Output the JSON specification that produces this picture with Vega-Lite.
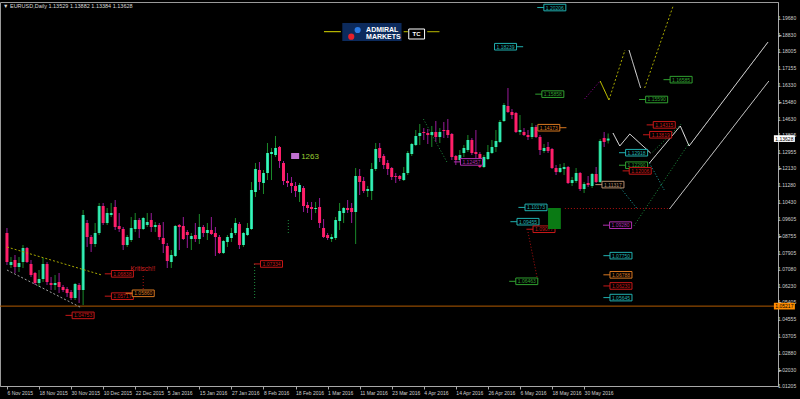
{
"$schema":"https://vega.github.io/schema/vega-lite/v6.json",
"width":778,"height":384,
"autosize":"none",
"padding":{"left":0,"top":2,"right":22,"bottom":13},
"background":"#000000",
"config":{"view":{"stroke":"#9a9a9a","strokeWidth":1},"font":"Liberation Sans","axis":{"labelOverlap":false,"labelBound":false,"labelFlush":false,"grid":false,"labelFontSize":5,"labelColor":"#d0d0d0","labelFont":"Liberation Sans","domainColor":"#a8a8a8","tickColor":"#a8a8a8","tickSize":3,"labelPadding":1}},
"title":{"text":"▼ EURUSD,Daily  1.13529 1.13882 1.13384 1.13628","anchor":"start","frame":"group","orient":"top","offset":-7,"dx":3,"fontSize":5.5,"fontWeight":"normal","color":"#d8d8d8","font":"Liberation Sans"},
"datasets":{
"k":[
{"i":0,"o":1.08887,"h":1.09138,"l":1.07281,"c":1.07432},
{"i":1,"o":1.07281,"h":1.07683,"l":1.0713,"c":1.07432},
{"i":2,"o":1.07532,"h":1.07783,"l":1.06879,"c":1.07181},
{"i":3,"o":1.07181,"h":1.07683,"l":1.0693,"c":1.07381},
{"i":4,"o":1.07432,"h":1.08285,"l":1.0713,"c":1.08134},
{"i":5,"o":1.08134,"h":1.08185,"l":1.07381,"c":1.07432},
{"i":6,"o":1.07331,"h":1.07532,"l":1.06679,"c":1.06779},
{"i":7,"o":1.06879,"h":1.0693,"l":1.06277,"c":1.06377},
{"i":8,"o":1.06377,"h":1.0703,"l":1.06177,"c":1.06578},
{"i":9,"o":1.06578,"h":1.07632,"l":1.06428,"c":1.07331},
{"i":10,"o":1.07331,"h":1.07432,"l":1.06277,"c":1.06428},
{"i":11,"o":1.06377,"h":1.06679,"l":1.06026,"c":1.06277},
{"i":12,"o":1.06277,"h":1.06779,"l":1.06026,"c":1.06377},
{"i":13,"o":1.06428,"h":1.06879,"l":1.05875,"c":1.06177},
{"i":14,"o":1.06177,"h":1.06277,"l":1.05926,"c":1.06026},
{"i":15,"o":1.06076,"h":1.06177,"l":1.05675,"c":1.05875},
{"i":16,"o":1.05926,"h":1.06026,"l":1.05524,"c":1.05624},
{"i":17,"o":1.05624,"h":1.06377,"l":1.05524,"c":1.06327},
{"i":18,"o":1.06277,"h":1.06377,"l":1.05373,"c":1.06026},
{"i":19,"o":1.06026,"h":1.10042,"l":1.05273,"c":1.09791},
{"i":20,"o":1.09389,"h":1.0954,"l":1.08185,"c":1.08687},
{"i":21,"o":1.08687,"h":1.08787,"l":1.07934,"c":1.08335},
{"i":22,"o":1.08335,"h":1.09389,"l":1.08185,"c":1.08887},
{"i":23,"o":1.08887,"h":1.10393,"l":1.08787,"c":1.10243},
{"i":24,"o":1.10243,"h":1.10393,"l":1.09289,"c":1.09389},
{"i":25,"o":1.09389,"h":1.10142,"l":1.09289,"c":1.09891},
{"i":26,"o":1.09791,"h":1.10393,"l":1.09691,"c":1.09891},
{"i":27,"o":1.10193,"h":1.10544,"l":1.09038,"c":1.09189},
{"i":28,"o":1.09239,"h":1.09891,"l":1.08938,"c":1.09088},
{"i":29,"o":1.09088,"h":1.09189,"l":1.08034,"c":1.08285},
{"i":30,"o":1.08285,"h":1.08787,"l":1.08185,"c":1.08687},
{"i":31,"o":1.08536,"h":1.09691,"l":1.08436,"c":1.09138},
{"i":32,"o":1.09088,"h":1.09891,"l":1.08938,"c":1.0954},
{"i":33,"o":1.0954,"h":1.0964,"l":1.08636,"c":1.09088},
{"i":34,"o":1.09088,"h":1.09691,"l":1.09038,"c":1.0964},
{"i":35,"o":1.09289,"h":1.09891,"l":1.09189,"c":1.0944},
{"i":36,"o":1.0954,"h":1.09891,"l":1.08938,"c":1.09189},
{"i":37,"o":1.09189,"h":1.0944,"l":1.08938,"c":1.09289},
{"i":38,"o":1.09289,"h":1.09389,"l":1.08536,"c":1.08687},
{"i":39,"o":1.08636,"h":1.0944,"l":1.07883,"c":1.08335},
{"i":40,"o":1.08235,"h":1.08385,"l":1.0713,"c":1.07482},
{"i":41,"o":1.07432,"h":1.08034,"l":1.0713,"c":1.07783},
{"i":42,"o":1.07733,"h":1.09289,"l":1.07683,"c":1.09239},
{"i":43,"o":1.09289,"h":1.09339,"l":1.08034,"c":1.09189},
{"i":44,"o":1.09239,"h":1.09691,"l":1.08536,"c":1.08586},
{"i":45,"o":1.08938,"h":1.09038,"l":1.08134,"c":1.08787},
{"i":46,"o":1.08586,"h":1.08887,"l":1.08034,"c":1.08737},
{"i":47,"o":1.08787,"h":1.09389,"l":1.08436,"c":1.08586},
{"i":48,"o":1.08586,"h":1.09841,"l":1.08335,"c":1.09189},
{"i":49,"o":1.09189,"h":1.09289,"l":1.08687,"c":1.08887},
{"i":50,"o":1.08887,"h":1.09389,"l":1.08536,"c":1.09038},
{"i":51,"o":1.09038,"h":1.09691,"l":1.08787,"c":1.08837},
{"i":52,"o":1.08887,"h":1.09189,"l":1.07733,"c":1.08687},
{"i":53,"o":1.08687,"h":1.08787,"l":1.07833,"c":1.07883},
{"i":54,"o":1.07883,"h":1.08536,"l":1.07833,"c":1.08486},
{"i":55,"o":1.08436,"h":1.08787,"l":1.08185,"c":1.08687},
{"i":56,"o":1.08636,"h":1.09138,"l":1.08436,"c":1.08887},
{"i":57,"o":1.08887,"h":1.0964,"l":1.08787,"c":1.09389},
{"i":58,"o":1.09339,"h":1.0944,"l":1.08084,"c":1.08285},
{"i":59,"o":1.08285,"h":1.08938,"l":1.08185,"c":1.08887},
{"i":60,"o":1.08787,"h":1.09389,"l":1.08737,"c":1.09138},
{"i":61,"o":1.09088,"h":1.11448,"l":1.09038,"c":1.11046},
{"i":62,"o":1.10946,"h":1.12401,"l":1.10695,"c":1.121},
{"i":63,"o":1.1205,"h":1.12452,"l":1.11046,"c":1.11448},
{"i":64,"o":1.11397,"h":1.1205,"l":1.10845,"c":1.11899},
{"i":65,"o":1.11899,"h":1.13405,"l":1.11548,"c":1.12903},
{"i":66,"o":1.12853,"h":1.13154,"l":1.11548,"c":1.12954},
{"i":67,"o":1.12803,"h":1.13757,"l":1.12703,"c":1.13154},
{"i":68,"o":1.13205,"h":1.13255,"l":1.1215,"c":1.12502},
{"i":69,"o":1.12401,"h":1.12502,"l":1.11297,"c":1.11498},
{"i":70,"o":1.11498,"h":1.11899,"l":1.11197,"c":1.11397},
{"i":71,"o":1.11397,"h":1.11699,"l":1.10895,"c":1.11247},
{"i":72,"o":1.11247,"h":1.11448,"l":1.10695,"c":1.10996},
{"i":73,"o":1.10946,"h":1.11397,"l":1.10444,"c":1.11297},
{"i":74,"o":1.11146,"h":1.11247,"l":1.09942,"c":1.10243},
{"i":75,"o":1.10293,"h":1.10444,"l":1.09891,"c":1.10142},
{"i":76,"o":1.10193,"h":1.10444,"l":1.0954,"c":1.10092},
{"i":77,"o":1.10092,"h":1.10444,"l":1.09891,"c":1.10142},
{"i":78,"o":1.10193,"h":1.10644,"l":1.09138,"c":1.09389},
{"i":79,"o":1.09138,"h":1.0959,"l":1.08636,"c":1.08687},
{"i":80,"o":1.08787,"h":1.08887,"l":1.08536,"c":1.08636},
{"i":81,"o":1.08586,"h":1.08837,"l":1.08436,"c":1.08687},
{"i":82,"o":1.08636,"h":1.09691,"l":1.08536,"c":1.0954},
{"i":83,"o":1.0949,"h":1.10393,"l":1.09038,"c":1.09992},
{"i":84,"o":1.09891,"h":1.10193,"l":1.09389,"c":1.10142},
{"i":85,"o":1.10142,"h":1.10544,"l":1.09891,"c":1.10042},
{"i":86,"o":1.10142,"h":1.10393,"l":1.09389,"c":1.09942},
{"i":87,"o":1.09942,"h":1.1215,"l":1.08335,"c":1.11749},
{"i":88,"o":1.11749,"h":1.121,"l":1.10795,"c":1.11448},
{"i":89,"o":1.11498,"h":1.11699,"l":1.10895,"c":1.10996},
{"i":90,"o":1.10996,"h":1.11247,"l":1.10695,"c":1.11096},
{"i":91,"o":1.10996,"h":1.12401,"l":1.10544,"c":1.121},
{"i":92,"o":1.121,"h":1.13405,"l":1.12,"c":1.13104},
{"i":93,"o":1.13154,"h":1.13405,"l":1.12452,"c":1.12652},
{"i":94,"o":1.12753,"h":1.12853,"l":1.121,"c":1.12301},
{"i":95,"o":1.12401,"h":1.12552,"l":1.11799,"c":1.121},
{"i":96,"o":1.1215,"h":1.12201,"l":1.11548,"c":1.11699},
{"i":97,"o":1.11749,"h":1.11899,"l":1.11397,"c":1.11699},
{"i":98,"o":1.11749,"h":1.11799,"l":1.11498,"c":1.11598},
{"i":99,"o":1.11548,"h":1.12201,"l":1.11498,"c":1.11899},
{"i":100,"o":1.11899,"h":1.13004,"l":1.11799,"c":1.12903},
{"i":101,"o":1.12853,"h":1.13405,"l":1.12753,"c":1.13355},
{"i":102,"o":1.13305,"h":1.14058,"l":1.13255,"c":1.13757},
{"i":103,"o":1.13757,"h":1.14359,"l":1.13305,"c":1.13907},
{"i":104,"o":1.13958,"h":1.14158,"l":1.13556,"c":1.13907},
{"i":105,"o":1.13907,"h":1.14108,"l":1.13355,"c":1.13807},
{"i":106,"o":1.13807,"h":1.14259,"l":1.13205,"c":1.13958},
{"i":107,"o":1.13958,"h":1.1451,"l":1.13456,"c":1.13707},
{"i":108,"o":1.13707,"h":1.14158,"l":1.13405,"c":1.13958},
{"i":109,"o":1.14058,"h":1.1446,"l":1.13656,"c":1.14008},
{"i":110,"o":1.14058,"h":1.1461,"l":1.13656,"c":1.13807},
{"i":111,"o":1.13857,"h":1.13907,"l":1.12552,"c":1.12703},
{"i":112,"o":1.12753,"h":1.12803,"l":1.12301,"c":1.12552},
{"i":113,"o":1.12552,"h":1.13054,"l":1.12452,"c":1.12803},
{"i":114,"o":1.12903,"h":1.13305,"l":1.12703,"c":1.13154},
{"i":115,"o":1.13054,"h":1.13807,"l":1.12954,"c":1.13556},
{"i":116,"o":1.13556,"h":1.13656,"l":1.12803,"c":1.12903},
{"i":117,"o":1.12954,"h":1.14058,"l":1.12652,"c":1.12853},
{"i":118,"o":1.12853,"h":1.12954,"l":1.1215,"c":1.12201},
{"i":119,"o":1.12201,"h":1.12803,"l":1.1215,"c":1.12703},
{"i":120,"o":1.12602,"h":1.13305,"l":1.12552,"c":1.12954},
{"i":121,"o":1.12903,"h":1.13556,"l":1.12853,"c":1.13205},
{"i":122,"o":1.13205,"h":1.14058,"l":1.12954,"c":1.13506},
{"i":123,"o":1.13456,"h":1.1456,"l":1.13405,"c":1.1446},
{"i":124,"o":1.1451,"h":1.15413,"l":1.1446,"c":1.15313},
{"i":125,"o":1.15263,"h":1.16166,"l":1.14911,"c":1.14962},
{"i":126,"o":1.14962,"h":1.15112,"l":1.1461,"c":1.14811},
{"i":127,"o":1.14911,"h":1.14962,"l":1.13907,"c":1.13958},
{"i":128,"o":1.13958,"h":1.14811,"l":1.13807,"c":1.14058},
{"i":129,"o":1.13958,"h":1.14158,"l":1.13757,"c":1.13807},
{"i":130,"o":1.13807,"h":1.14058,"l":1.13556,"c":1.13707},
{"i":131,"o":1.13707,"h":1.14409,"l":1.13606,"c":1.14209},
{"i":132,"o":1.14209,"h":1.14309,"l":1.13656,"c":1.13707},
{"i":133,"o":1.13707,"h":1.13807,"l":1.12803,"c":1.13054},
{"i":134,"o":1.13004,"h":1.13355,"l":1.12903,"c":1.13154},
{"i":135,"o":1.13205,"h":1.13456,"l":1.12903,"c":1.13004},
{"i":136,"o":1.13104,"h":1.13154,"l":1.121,"c":1.1215},
{"i":137,"o":1.1215,"h":1.12301,"l":1.11799,"c":1.1195},
{"i":138,"o":1.1195,"h":1.12351,"l":1.11899,"c":1.1215},
{"i":139,"o":1.121,"h":1.12401,"l":1.11799,"c":1.12201},
{"i":140,"o":1.12201,"h":1.12251,"l":1.11347,"c":1.11397},
{"i":141,"o":1.11397,"h":1.11699,"l":1.11247,"c":1.11548},
{"i":142,"o":1.11498,"h":1.1215,"l":1.11397,"c":1.11899},
{"i":143,"o":1.11899,"h":1.1195,"l":1.10996,"c":1.11096},
{"i":144,"o":1.11096,"h":1.11448,"l":1.10895,"c":1.11347},
{"i":145,"o":1.11397,"h":1.11749,"l":1.11197,"c":1.11297},
{"i":146,"o":1.11247,"h":1.11899,"l":1.11146,"c":1.11849},
{"i":147,"o":1.11849,"h":1.12201,"l":1.11397,"c":1.11448},
{"i":148,"o":1.11448,"h":1.13606,"l":1.11397,"c":1.13506},
{"i":149,"o":1.13656,"h":1.13958,"l":1.13205,"c":1.13456},
{"i":150,"o":1.13529,"h":1.13882,"l":1.13384,"c":1.13628}
],
"ln":[
{"id":1,"n":0,"i":0,"p":1.08185,"g":"ol"},{"id":1,"n":1,"i":23.65,"p":1.06779,"g":"ol"},
{"id":2,"n":0,"i":0,"p":1.0703,"g":"gy"},{"id":2,"n":1,"i":18.7,"p":1.05122,"g":"gy"},
{"id":3,"n":0,"i":34.0,"p":1.06729,"g":"rd"},{"id":3,"n":1,"i":34.0,"p":1.06026,"g":"rd"},
{"id":4,"n":0,"i":61.8,"p":1.07331,"g":"gr"},{"id":4,"n":1,"i":61.8,"p":1.05524,"g":"gr"},
{"id":5,"n":0,"i":70.2,"p":1.0954,"g":"gr"},{"id":5,"n":1,"i":70.2,"p":1.08887,"g":"gr"},
{"id":6,"n":0,"i":130.0,"p":1.08938,"g":"rd"},{"id":6,"n":1,"i":132.5,"p":1.06428,"g":"rd"},
{"id":7,"n":0,"i":103.9,"p":1.1461,"g":"gr"},{"id":7,"n":1,"i":109.9,"p":1.12401,"g":"gr"},
{"id":8,"n":0,"i":144.1,"p":1.15614,"g":"pu"},{"id":8,"n":1,"i":148.0,"p":1.16518,"g":"pu"},
{"id":9,"n":0,"i":148.0,"p":1.16518,"g":"ye"},{"id":9,"n":1,"i":150.2,"p":1.15564,"g":"ye"},
{"id":10,"n":0,"i":150.2,"p":1.15564,"g":"ol"},{"id":10,"n":1,"i":154.2,"p":1.18074,"g":"ol"},
{"id":11,"n":0,"i":155.2,"p":1.18074,"g":"wh"},{"id":11,"n":1,"i":158.1,"p":1.16166,"g":"wh"},
{"id":12,"n":0,"i":159.1,"p":1.16166,"g":"ol"},{"id":12,"n":1,"i":166.3,"p":1.20333,"g":"ol"},
{"id":13,"n":0,"i":151.2,"p":1.13907,"g":"wt"},{"id":13,"n":1,"i":152.9,"p":1.13255,"g":"wt"},{"id":13,"n":2,"i":155.4,"p":1.13857,"g":"wt"},{"id":13,"n":3,"i":160.6,"p":1.12903,"g":"wt"},
{"id":14,"n":0,"i":160.3,"p":1.12401,"g":"wt"},{"id":14,"n":1,"i":168.0,"p":1.14259,"g":"wt"},{"id":14,"n":2,"i":170.2,"p":1.13255,"g":"wt"},{"id":14,"n":3,"i":189.9,"p":1.18476,"g":"wt"},
{"id":15,"n":0,"i":165.3,"p":1.10092,"g":"wh"},{"id":15,"n":1,"i":190.1,"p":1.16518,"g":"wh"},
{"id":16,"n":0,"i":139.2,"p":1.10117,"g":"rd"},{"id":16,"n":1,"i":165.3,"p":1.10117,"g":"rd"},
{"id":17,"n":0,"i":152.7,"p":1.11247,"g":"cy"},{"id":17,"n":1,"i":157.1,"p":1.10142,"g":"cy"},
{"id":18,"n":0,"i":160.3,"p":1.12401,"g":"cy"},{"id":18,"n":1,"i":164.0,"p":1.11046,"g":"cy"},
{"id":19,"n":0,"i":156.4,"p":1.09239,"g":"gr"},{"id":19,"n":1,"i":170.2,"p":1.13405,"g":"gr"},
{"id":20,"n":0,"i":161.1,"p":1.12954,"g":"gr"},{"id":20,"n":1,"i":168.5,"p":1.14409,"g":"gr"},
{"id":21,"n":0,"i":79.1,"p":1.18993,"g":"ye"},{"id":21,"n":1,"i":83.3,"p":1.18993,"g":"ye"},
{"id":22,"n":0,"i":99.0,"p":1.18993,"g":"ye"},{"id":22,"n":1,"i":100.0,"p":1.18993,"g":"ye"},
{"id":23,"n":0,"i":104.9,"p":1.18993,"g":"ye"},{"id":23,"n":1,"i":107.9,"p":1.18993,"g":"ye"}
],
"lb":[
{"i":136.7,"p":1.20206,"t":"1.20206","g":"cy","s":"L"},
{"i":124.4,"p":1.18239,"t":"1.18239","g":"cy","s":"R"},
{"i":136.2,"p":1.15858,"t":"1.15858","g":"gr","s":"L"},
{"i":168.2,"p":1.16585,"t":"1.16585","g":"gr","s":"L"},
{"i":162.1,"p":1.1559,"t":"1.15590","g":"gr","s":"L"},
{"i":135.2,"p":1.14173,"t":"1.14173","g":"or","s":"R"},
{"i":164.0,"p":1.14315,"t":"1.14315","g":"rd","s":"L"},
{"i":163.1,"p":1.13819,"t":"1.13819","g":"rd","s":"L"},
{"i":157.1,"p":1.12918,"t":"1.12918","g":"cy","s":"L"},
{"i":157.1,"p":1.1229,"t":"1.12290","g":"gr","s":"L"},
{"i":158.0,"p":1.12006,"t":"1.12006","g":"rd","s":"L"},
{"i":151.2,"p":1.11317,"t":"1.11317","g":"tn","s":"L"},
{"i":132.0,"p":1.10173,"t":"1.10173","g":"cy","s":"L"},
{"i":130.0,"p":1.09455,"t":"1.09455","g":"cy","s":"L"},
{"i":134.0,"p":1.09077,"t":"1.09077","g":"rd","s":"L"},
{"i":153.1,"p":1.0928,"t":"1.09280","g":"pu","s":"L"},
{"i":115.9,"p":1.12457,"t":"1.12457","g":"pu","s":"L"},
{"i":153.2,"p":1.0775,"t":"1.07750","g":"cy","s":"L"},
{"i":153.2,"p":1.06788,"t":"1.06788","g":"or","s":"L"},
{"i":153.2,"p":1.0623,"t":"1.06230","g":"rd","s":"L"},
{"i":153.2,"p":1.05645,"t":"1.05645","g":"cy","s":"L"},
{"i":129.7,"p":1.06463,"t":"1.06463","g":"gr","s":"L"},
{"i":28.8,"p":1.06838,"t":"1.06838","g":"rd","s":"L"},
{"i":28.8,"p":1.05717,"t":"1.05717","g":"rd","s":"L"},
{"i":34.0,"p":1.0586,"t":"1.05860","g":"or","s":"L"},
{"i":19.0,"p":1.04753,"t":"1.04753","g":"rd","s":"L"},
{"i":66.0,"p":1.07334,"t":"1.07334","g":"rd","s":"L"}
],
"yl":[
{"i":192.4,"p":1.1968,"t":"1.19680"},{"i":192.4,"p":1.1883,"t":"1.18830"},{"i":192.4,"p":1.18005,"t":"1.18005"},{"i":192.4,"p":1.17155,"t":"1.17155"},
{"i":192.4,"p":1.1633,"t":"1.16330"},{"i":192.4,"p":1.1548,"t":"1.15480"},{"i":192.4,"p":1.1463,"t":"1.14630"},{"i":192.4,"p":1.13805,"t":"1.13805"},
{"i":192.4,"p":1.12955,"t":"1.12955"},{"i":192.4,"p":1.1213,"t":"1.12130"},{"i":192.4,"p":1.1128,"t":"1.11280"},{"i":192.4,"p":1.1043,"t":"1.10430"},
{"i":192.4,"p":1.09605,"t":"1.09605"},{"i":192.4,"p":1.08755,"t":"1.08755"},{"i":192.4,"p":1.07905,"t":"1.07905"},{"i":192.4,"p":1.0708,"t":"1.07080"},
{"i":192.4,"p":1.0623,"t":"1.06230"},{"i":192.4,"p":1.05405,"t":"1.05405"},{"i":192.4,"p":1.04555,"t":"1.04555"},{"i":192.4,"p":1.03705,"t":"1.03705"},
{"i":192.4,"p":1.0288,"t":"1.02880"},{"i":192.4,"p":1.0203,"t":"1.02030"},{"i":192.4,"p":1.01205,"t":"1.01205"}
],
"ax":[
{"i":193.97,"p":1.13628,"t":"1.13628","g":"cur"},
{"i":193.97,"p":1.05217,"t":"1.05217","g":"ord"}
]
},
"layer":[
{"data":{"name":"k"},
 "mark":{"type":"rule","strokeWidth":1},
 "encoding":{
  "x":{"field":"i","type":"quantitative","scale":{"domain":[-0.49,191.13],"nice":false,"zero":false},"title":null,
   "axis":{"orient":"bottom","values":[0,8,16,24,32,40,48,56,64,72,80,88,96,104,112,120,128,136,144],
   "labelExpr":"['6 Nov 2015','18 Nov 2015','30 Nov 2015','10 Dec 2015','22 Dec 2015','5 Jan 2016','15 Jan 2016','27 Jan 2016','8 Feb 2016','18 Feb 2016','1 Mar 2016','11 Mar 2016','23 Mar 2016','4 Apr 2016','14 Apr 2016','26 Apr 2016','6 May 2016','18 May 2016','30 May 2016'][round(datum.value/8)]",
   "labelAlign":"left","labelOverlap":false}},
  "y":{"field":"l","type":"quantitative","scale":{"domain":[1.01207,1.20484],"nice":false,"zero":false},"title":null,
   "axis":{"orient":"right","values":[1.1968,1.1883,1.18005,1.17155,1.1633,1.1548,1.1463,1.13805,1.12955,1.1213,1.1128,1.1043,1.09605,1.08755,1.07905,1.0708,1.0623,1.05405,1.04555,1.03705,1.0288,1.0203,1.01205],"labels":false}},
  "y2":{"field":"h"},
  "color":{"condition":{"test":"datum.c >= datum.o","value":"#1a8a2a"},"value":"#9a1a9a"}}},
{"data":{"name":"yl"},
 "mark":{"type":"text","fontSize":5,"font":"Liberation Sans","align":"left","baseline":"middle","color":"#d0d0d0"},
 "encoding":{
  "x":{"field":"i","type":"quantitative","scale":{"domain":[-0.49,191.13],"nice":false,"zero":false},"title":null},
  "y":{"field":"p","type":"quantitative","scale":{"domain":[1.01207,1.20484],"nice":false,"zero":false},"title":null},
  "text":{"field":"t"}}},
{"data":{"values":[{"p":1.05217}]},
 "mark":{"type":"rule","color":"#b35a00","strokeWidth":1},
 "encoding":{"y":{"field":"p","type":"quantitative","scale":{"domain":[1.01207,1.20484],"nice":false,"zero":false},"title":null}}},
{"data":{"name":"k"},
 "transform":[{"filter":"datum.c >= datum.o"}],
 "mark":{"type":"bar","size":3,"color":{"gradient":"linear","x1":0,"x2":1,"y1":0,"y2":0,"stops":[{"offset":0,"color":"#18c870"},{"offset":0.5,"color":"#3cf0c8"},{"offset":1,"color":"#20d890"}]}},
 "encoding":{
  "x":{"field":"i","type":"quantitative","scale":{"domain":[-0.49,191.13],"nice":false,"zero":false},"title":null},
  "y":{"field":"o","type":"quantitative","scale":{"domain":[1.01207,1.20484],"nice":false,"zero":false},"title":null},
  "y2":{"field":"c"}}},
{"data":{"name":"k"},
 "transform":[{"filter":"datum.c < datum.o"}],
 "mark":{"type":"bar","size":3,"color":"#ff1f6a"},
 "encoding":{
  "x":{"field":"i","type":"quantitative","scale":{"domain":[-0.49,191.13],"nice":false,"zero":false},"title":null},
  "y":{"field":"o","type":"quantitative","scale":{"domain":[1.01207,1.20484],"nice":false,"zero":false},"title":null},
  "y2":{"field":"c"}}},
{"data":{"name":"ln"},
 "mark":{"type":"line"},
 "encoding":{
  "x":{"field":"i","type":"quantitative","scale":{"domain":[-0.49,191.13],"nice":false,"zero":false},"title":null},
  "y":{"field":"p","type":"quantitative","scale":{"domain":[1.01207,1.20484],"nice":false,"zero":false},"title":null},
  "detail":{"field":"id","type":"nominal"},
  "order":{"field":"n","type":"quantitative"},
  "color":{"field":"g","type":"nominal","legend":null,"scale":{"domain":["ol","gy","rd","gr","pu","ye","wh","wt","cy"],"range":["#a8a800","#a0a0a0","#b01010","#1f8f3f","#a000a0","#e0e000","#e8e8e8","#ffffff","#20a8a8"]}},
  "strokeDash":{"field":"g","type":"nominal","legend":null,"scale":{"domain":["ol","gy","rd","gr","pu","ye","wh","wt","cy"],"range":[[2,2],[2,2],[1,2],[1,2],[1,2],[1,0],[1,0],[1,0],[1,2]]}},
  "strokeWidth":{"field":"g","type":"ordinal","legend":null,"scale":{"domain":["ol","gy","rd","gr","pu","ye","wh","wt","cy"],"range":[1,1,1,1,1,1.5,1.5,2.5,1]}}}},
{"data":{"name":"lb"},
 "mark":{"type":"point","fill":"#000000","fillOpacity":1,"strokeWidth":1,"size":484,"opacity":1},
 "encoding":{
  "x":{"field":"i","type":"quantitative","scale":{"domain":[-0.49,191.13],"nice":false,"zero":false},"title":null},
  "y":{"field":"p","type":"quantitative","scale":{"domain":[1.01207,1.20484],"nice":false,"zero":false},"title":null},
  "shape":{"field":"s","type":"nominal","legend":null,"scale":{"domain":["L","R"],"range":["M-1,-0.3H1V0.3H-1Z M-1,0H-1.6","M-1,-0.3H1V0.3H-1Z M1,0H1.6"]}},
  "stroke":{"field":"g","type":"nominal","legend":null,"scale":{"domain":["cy","gr","or","rd","tn","pu"],"range":["#20b0b0","#30a030","#d87820","#c81818","#b89070","#b030b0"]}}}},
{"data":{"name":"lb"},
 "mark":{"type":"text","fontSize":5,"font":"Liberation Sans","align":"center","baseline":"middle"},
 "encoding":{
  "x":{"field":"i","type":"quantitative","scale":{"domain":[-0.49,191.13],"nice":false,"zero":false},"title":null},
  "y":{"field":"p","type":"quantitative","scale":{"domain":[1.01207,1.20484],"nice":false,"zero":false},"title":null},
  "text":{"field":"t"},
  "color":{"field":"g","type":"nominal","legend":null,"scale":{"domain":["cy","gr","or","rd","tn","pu"],"range":["#20b0b0","#30a030","#d87820","#c81818","#b89070","#b030b0"]}}}},
{"data":{"values":[{"i1":135.0,"i2":138.2,"p1":1.10142,"p2":1.09088}]},
 "mark":{"type":"rect","color":"#0a7a14"},
 "encoding":{
  "x":{"field":"i1","type":"quantitative","scale":{"domain":[-0.49,191.13],"nice":false,"zero":false},"title":null},
  "x2":{"field":"i2"},
  "y":{"field":"p1","type":"quantitative","scale":{"domain":[1.01207,1.20484],"nice":false,"zero":false},"title":null},
  "y2":{"field":"p2"}}},
{"data":{"values":[{"i1":70.9,"i2":72.9,"p1":1.12903,"p2":1.12602}]},
 "mark":{"type":"rect","color":"#c070d0"},
 "encoding":{
  "x":{"field":"i1","type":"quantitative","scale":{"domain":[-0.49,191.13],"nice":false,"zero":false},"title":null},
  "x2":{"field":"i2"},
  "y":{"field":"p1","type":"quantitative","scale":{"domain":[1.01207,1.20484],"nice":false,"zero":false},"title":null},
  "y2":{"field":"p2"}}},
{"data":{"values":[{"i":73.4,"p":1.12727,"t":"1263"}]},
 "mark":{"type":"text","fontSize":8,"font":"Liberation Sans","align":"left","baseline":"middle","color":"#9acd32"},
 "encoding":{
  "x":{"field":"i","type":"quantitative","scale":{"domain":[-0.49,191.13],"nice":false,"zero":false},"title":null},
  "y":{"field":"p","type":"quantitative","scale":{"domain":[1.01207,1.20484],"nice":false,"zero":false},"title":null},
  "text":{"field":"t"}}},
{"data":{"values":[{"i":30.8,"p":1.0708,"t":"Kritisch!!"}]},
 "mark":{"type":"text","fontSize":6.5,"font":"Liberation Sans","align":"left","baseline":"middle","color":"#d02020"},
 "encoding":{
  "x":{"field":"i","type":"quantitative","scale":{"domain":[-0.49,191.13],"nice":false,"zero":false},"title":null},
  "y":{"field":"p","type":"quantitative","scale":{"domain":[1.01207,1.20484],"nice":false,"zero":false},"title":null},
  "text":{"field":"t"}}},
{"data":{"values":[{"i1":83.67,"i2":98.45,"p1":1.19429,"p2":1.18526}]},
 "mark":{"type":"rect","color":"#0c2a5c"},
 "encoding":{
  "x":{"field":"i1","type":"quantitative","scale":{"domain":[-0.49,191.13],"nice":false,"zero":false},"title":null},
  "x2":{"field":"i2"},
  "y":{"field":"p1","type":"quantitative","scale":{"domain":[1.01207,1.20484],"nice":false,"zero":false},"title":null},
  "y2":{"field":"p2"}}},
{"data":{"values":[{"i1":100.25,"i2":104.19,"p1":1.19128,"p2":1.18626}]},
 "mark":{"type":"rect","fill":"#000000","stroke":"#ffffff","strokeWidth":1},
 "encoding":{
  "x":{"field":"i1","type":"quantitative","scale":{"domain":[-0.49,191.13],"nice":false,"zero":false},"title":null},
  "x2":{"field":"i2"},
  "y":{"field":"p1","type":"quantitative","scale":{"domain":[1.01207,1.20484],"nice":false,"zero":false},"title":null},
  "y2":{"field":"p2"}}},
{"data":{"values":[{"i":85.9,"p":1.18742,"g":"r"},{"i":87.5,"p":1.19078,"g":"b"}]},
 "mark":{"type":"circle","size":38,"opacity":1},
 "encoding":{
  "x":{"field":"i","type":"quantitative","scale":{"domain":[-0.49,191.13],"nice":false,"zero":false},"title":null},
  "y":{"field":"p","type":"quantitative","scale":{"domain":[1.01207,1.20484],"nice":false,"zero":false},"title":null},
  "color":{"field":"g","type":"nominal","legend":null,"scale":{"domain":["r","b"],"range":["#e8202a","#2a7ae2"]}}}},
{"data":{"values":[{"i":89.6,"p":1.19103,"t":"ADMIRAL"},{"i":89.6,"p":1.18752,"t":"MARKETS"}]},
 "mark":{"type":"text","fontSize":7,"font":"Liberation Sans","fontWeight":"bold","align":"left","baseline":"middle","color":"#ffffff"},
 "encoding":{
  "x":{"field":"i","type":"quantitative","scale":{"domain":[-0.49,191.13],"nice":false,"zero":false},"title":null},
  "y":{"field":"p","type":"quantitative","scale":{"domain":[1.01207,1.20484],"nice":false,"zero":false},"title":null},
  "text":{"field":"t"}}},
{"data":{"values":[{"i":102.2,"p":1.18877,"t":"TC"}]},
 "mark":{"type":"text","fontSize":6,"font":"Liberation Sans","fontWeight":"bold","align":"center","baseline":"middle","color":"#ffffff"},
 "encoding":{
  "x":{"field":"i","type":"quantitative","scale":{"domain":[-0.49,191.13],"nice":false,"zero":false},"title":null},
  "y":{"field":"p","type":"quantitative","scale":{"domain":[1.01207,1.20484],"nice":false,"zero":false},"title":null},
  "text":{"field":"t"}}},
{"data":{"name":"ax"},
 "mark":{"type":"point","shape":"M-1,-0.32H1V0.32H-1Z","size":441,"filled":true,"opacity":1,"strokeWidth":0},
 "encoding":{
  "x":{"field":"i","type":"quantitative","scale":{"domain":[-0.49,191.13],"nice":false,"zero":false},"title":null},
  "y":{"field":"p","type":"quantitative","scale":{"domain":[1.01207,1.20484],"nice":false,"zero":false},"title":null},
  "color":{"field":"g","type":"nominal","legend":null,"scale":{"domain":["cur","ord"],"range":["#ffffff","#ff8c00"]}}}},
{"data":{"name":"ax"},
 "mark":{"type":"text","fontSize":5,"font":"Liberation Sans","align":"center","baseline":"middle","color":"#000000"},
 "encoding":{
  "x":{"field":"i","type":"quantitative","scale":{"domain":[-0.49,191.13],"nice":false,"zero":false},"title":null},
  "y":{"field":"p","type":"quantitative","scale":{"domain":[1.01207,1.20484],"nice":false,"zero":false},"title":null},
  "text":{"field":"t"}}}
],
"resolve":{"scale":{"color":"independent","stroke":"independent","shape":"independent"}}
}
